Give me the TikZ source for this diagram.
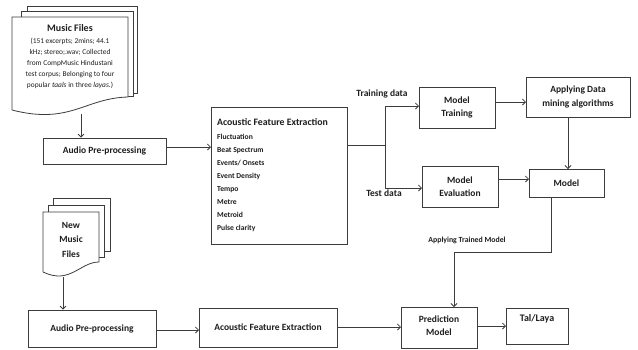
\documentclass[tikz,border=0pt]{standalone}
\usepackage{fontspec}
\setmainfont{Carlito}
\usetikzlibrary{arrows.meta}
\definecolor{linec}{HTML}{3C3C3C}
\definecolor{txtc}{HTML}{1E1E1E}
\tikzset{
  every node/.style={text=txtc},
  flowbox/.style={draw=linec, line width=0.8pt, fill=white, inner sep=0pt},
  boxtext/.style={font=\bfseries\fontsize{9.5}{13.5}\selectfont, align=center},
  sheet/.style={draw=linec, line width=0.8pt, fill=white},
  conn/.style={draw=linec, line width=0.8pt},
  arr/.style={conn, -{Straight Barb[length=3pt,width=6pt]}},
}
% box given by its name, centre, width and height
\newcommand{\flowbox}[4]{%
  \node[flowbox, minimum width=#3, minimum height=#4] (#1) at (#2) {};%
}
\begin{document}
\begin{tikzpicture}[x=1pt, y=-1pt]
\useasboundingbox (0,0) rectangle (638,349);

% ---------- stack of music files (top) ----------
\path[sheet] (27,93) -- (27,6) -- (137,6) -- (137,93) -- cycle;
\path[sheet] (21,96) -- (21,11.5) -- (133,11.5) -- (133,96) -- cycle;
\path[sheet] (12,110) -- (12,17) -- (128,17) -- (128,97)
  .. controls (85,98) and (70,125) .. (12,110);
\node[font=\bfseries\fontsize{10}{12}\selectfont] (mftitle) at (70,28) {Music Files};
\node[anchor=north, align=center, font=\fontsize{7.4}{11}\selectfont, inner sep=0pt] (mfdesc) at (70,38)
  {(151 excerpts; 2mins; 44.1\\kHz; stereo;.wav; Collected\\from CompMusic Hindustani\\test corpus; Belonging to four\\popular \textit{taals} in three \textit{layas}.)};
\coordinate (mfbot) at (81,113.5);

% ---------- stack of new music files (bottom) ----------
\path[sheet] (53,251) -- (53,198) -- (110,198) -- (110,251) -- cycle;
\path[sheet] (48,257) -- (48,205) -- (104,205) -- (104,257) -- cycle;
\path[sheet] (43,272) -- (43,212) -- (99,212) -- (99,262)
  .. controls (80,262) and (70,285) .. (43,272);
\node[font=\bfseries\fontsize{9.5}{14.5}\selectfont, align=center] (nmtitle) at (71,239.5) {New\\Music\\Files};
\coordinate (nmbot) at (63,277);

% ---------- boxes ----------
\flowbox{apre1}{104.5,151}{123pt}{26pt}
\node[boxtext] (apre1t) at (apre1) {Audio Pre-processing};

\flowbox{afe1}{279,175.5}{136pt}{137pt}
\node[anchor=west, font=\bfseries\fontsize{9.8}{12}\selectfont, inner sep=0pt] (afe1t) at (217,122) {Acoustic Feature Extraction};
\node[anchor=north west, align=left, inner sep=0pt, font=\bfseries\fontsize{7.6}{13}\selectfont] (afe1l) at (217,133.5)
  {Fluctuation\\Beat Spectrum\\Events/ Onsets\\Event Density\\Tempo\\Metre\\Metroid\\Pulse clarity};

\flowbox{mtrain}{457,107.5}{76pt}{41pt}
\node[boxtext] (mtraint) at (mtrain) {Model\\Training};

\flowbox{adm}{578,97}{104pt}{40pt}
\node[boxtext] (admt) at (adm) {Applying Data\\mining algorithms};

\flowbox{meval}{460,186.5}{76pt}{41pt}
\node[boxtext] (mevalt) at (meval) {Model\\Evaluation};

\flowbox{model}{566.5,183}{75pt}{28pt}
\node[boxtext] (modelt) at (model) {Model};

\flowbox{apre2}{92,328.5}{128pt}{37pt}
\node[boxtext] (apre2t) at (apre2) {Audio Pre-processing};

\flowbox{afe2}{268,327.5}{138pt}{39pt}
\node[boxtext] (afe2t) at (afe2) {Acoustic Feature Extraction};

\flowbox{pred}{439,327.5}{76pt}{41pt}
\node[boxtext] (predt) at (439,325.5) {Prediction\\Model};

\flowbox{tal}{537,326}{62pt}{36pt}
\node[boxtext, font=\bfseries\fontsize{10}{12}\selectfont] (talt) at (537,318.5) {Tal/Laya};

% ---------- labels ----------
\node[font=\bfseries\fontsize{9.5}{12}\selectfont] (trlab) at (382,94) {Training data};
\node[font=\bfseries\fontsize{9.5}{12}\selectfont] (telab) at (384,193) {Test data};
\node[font=\bfseries\fontsize{7.8}{10}\selectfont] (aplab) at (467,240) {Applying Trained Model};

% ---------- connector end points ----------
\coordinate (a1) at (211,147);
\coordinate (split) at (385,145);
\coordinate (tr) at (419,106);
\coordinate (te) at (422,188);
\coordinate (m2a) at (526,102);
\coordinate (a2m) at (568,169);
\coordinate (e2m) at (529,179);
\coordinate (mdown) at (551,197);
\coordinate (elbow) at (551,252);
\coordinate (pin) at (454,307);
\coordinate (b1) at (199,330);
\coordinate (b2) at (401,327);
\coordinate (b3) at (506,326);

% ---------- connectors ----------
\draw[arr] (mfbot) -- (mfbot |- apre1.north);
\draw[arr] (apre1.east |- a1) -- (a1);
\draw[conn] (afe1.east |- split) -- (split);
\draw[arr] (split) |- (tr);
\draw[arr] (split) |- (te);
\draw[arr] (mtrain.east |- m2a) -- (m2a);
\draw[arr] (adm.south -| a2m) -- (a2m);
\draw[arr] (meval.east |- e2m) -- (e2m);
\draw[arr] (mdown) -- (elbow) -| (pin);
\draw[arr] (nmbot) -- (nmbot |- apre2.north);
\draw[arr] (apre2.east |- b1) -- (b1);
\draw[arr] (afe2.east |- b2) -- (b2);
\draw[arr] (pred.east |- b3) -- (b3);
\end{tikzpicture}
\end{document}
